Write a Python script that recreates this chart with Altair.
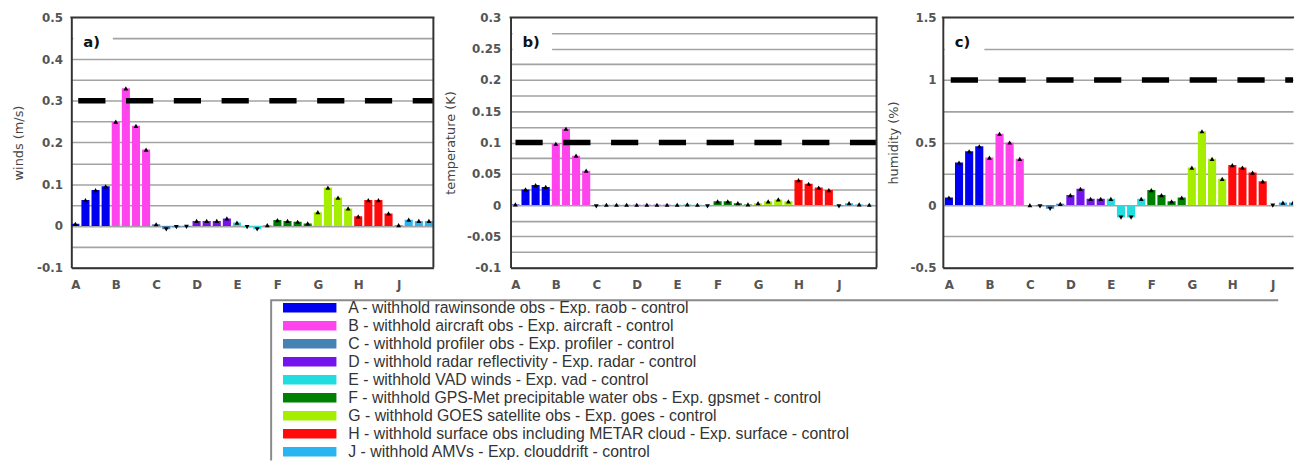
import json
import altair as alt
import pandas as pd

# ---------------- data ----------------
categories = ["A", "B", "C", "D", "E", "F", "G", "H", "J"]
colors = ["#0000f0", "#ff44ee", "#4682b4", "#7414ec", "#22dde0",
          "#008000", "#a6ee00", "#ff0a0a", "#2ab4f0"]
legend_labels = [
    "A - withhold rawinsonde obs - Exp. raob - control",
    "B - withhold aircraft obs - Exp. aircraft - control",
    "C - withhold profiler obs - Exp. profiler - control",
    "D - withhold radar reflectivity - Exp. radar - control",
    "E - withhold VAD winds - Exp. vad - control",
    "F - withhold GPS-Met precipitable water obs - Exp. gpsmet - control",
    "G - withhold GOES satellite obs - Exp. goes - control",
    "H - withhold surface obs including METAR cloud - Exp. surface - control",
    "J - withhold AMVs - Exp. clouddrift - control",
]

# four bars per experiment (one list per category, in category order)
winds = [
    [0.005, 0.062, 0.086, 0.095],
    [0.250, 0.330, 0.240, 0.183],
    [0.004, -0.008, -0.003, -0.002],
    [0.012, 0.012, 0.012, 0.018],
    [0.008, -0.003, -0.008, 0.002],
    [0.014, 0.012, 0.010, 0.006],
    [0.033, 0.092, 0.068, 0.042],
    [0.023, 0.062, 0.062, 0.030],
    [0.002, 0.015, 0.012, 0.012],
]
temperature = [
    [0.001, 0.025, 0.032, 0.029],
    [0.098, 0.122, 0.079, 0.055],
    [-0.002, 0.0005, 0.0005, 0.0005],
    [0.0005, 0.0005, 0.0005, 0.0005],
    [0.0005, 0.001, 0.0005, -0.002],
    [0.006, 0.006, 0.003, 0.001],
    [0.003, 0.006, 0.009, 0.006],
    [0.040, 0.034, 0.028, 0.024],
    [-0.002, 0.003, 0.001, 0.0005],
]
humidity = [
    [0.06, 0.34, 0.43, 0.47],
    [0.38, 0.57, 0.50, 0.37],
    [0.00, -0.01, -0.03, 0.01],
    [0.08, 0.13, 0.05, 0.05],
    [0.05, -0.10, -0.10, 0.05],
    [0.12, 0.08, 0.03, 0.06],
    [0.30, 0.59, 0.37, 0.21],
    [0.32, 0.30, 0.26, 0.19],
    [-0.005, 0.02, 0.02, 0.02],
]
thresholds = {"winds": 0.3, "temperature": 0.1, "humidity": 1.0}

winds_grid = [-0.1, -0.05, 0, 0.05, 0.1, 0.15, 0.2, 0.25, 0.3, 0.35, 0.4, 0.45, 0.5]
winds_labels = [-0.1, 0, 0.1, 0.2, 0.3, 0.4, 0.5]
temp_grid = [-0.1, -0.075, -0.05, -0.025, 0, 0.025, 0.05, 0.075, 0.1, 0.125,
             0.15, 0.175, 0.2, 0.225, 0.25, 0.275, 0.3]
temp_labels = [-0.1, -0.05, 0, 0.05, 0.1, 0.15, 0.2, 0.25, 0.3]
hum_grid = [-0.5, -0.25, 0, 0.25, 0.5, 0.75, 1, 1.25, 1.5]
hum_labels = [-0.5, 0, 0.5, 1, 1.5]


def make_frame(values):
    rows = []
    for gi, cat in enumerate(categories):
        for k, v in enumerate(values[gi]):
            pos = gi + k * 0.25
            rows.append({"cat": cat, "pos": pos, "x0": pos - 0.1, "x1": pos + 0.1,
                         "value": v, "dir": "up" if v >= 0 else "down"})
    return pd.DataFrame(rows)


color_scale = alt.Scale(domain=categories, range=colors)
cat_expr = "%s[datum.value]" % json.dumps(categories)
AXC = "#333333"
PH = 253
one = pd.DataFrame({"k": [0]})


def panel(values, title, ydom, grid_vals, label_vals, thresh, xdom, width,
          dash_offset, tag, right_border, label_pad, title_pad):
    df = make_frame(values)
    xs = alt.Scale(domain=xdom, nice=False, zero=False)
    ys = alt.Scale(domain=ydom, nice=False, zero=False)
    label_expr = ("indexof(%s, datum.value) >= 0 ? ((datum.value < 0 ? '-' : '') + "
                  "format(abs(datum.value), '~g')) : ''") % json.dumps(label_vals)
    x_axis = alt.Axis(
        orient="bottom", values=list(range(len(categories))), labelExpr=cat_expr,
        grid=False, ticks=False, title=None, labelFlush=False, labelPadding=12,
        labelFontSize=12, domain=True)
    y_axis = alt.Axis(
        orient="left", values=grid_vals, labelExpr=label_expr, grid=True,
        ticks=False, title=title, labelOverlap=False, labelPadding=label_pad,
        titlePadding=title_pad, domain=True)
    bars = alt.Chart(df).mark_bar(clip=True).encode(
        x=alt.X("x0:Q", scale=xs, axis=x_axis),
        x2="x1:Q",
        y=alt.Y("value:Q", scale=ys, axis=y_axis),
        y2=alt.datum(0),
        color=alt.Color("cat:N", scale=color_scale, legend=None),
    )
    marks = alt.Chart(df).mark_point(filled=True, color="black", size=24, opacity=1,
                                     clip=True).encode(
        x=alt.X("pos:Q", scale=xs, axis=x_axis),
        y=alt.Y("value:Q", scale=ys, axis=y_axis),
        shape=alt.Shape("dir:N", scale=alt.Scale(domain=["up", "down"],
                                                  range=["triangle-up", "triangle-down"]),
                        legend=None),
    )
    rule = alt.Chart(pd.DataFrame({"t": [thresh]})).mark_rule(
        color="black", strokeWidth=5.5, strokeDash=[27.5, 20.8],
        strokeDashOffset=dash_offset).encode(
        y=alt.Y("t:Q", scale=ys, axis=y_axis), x=alt.value(0), x2=alt.value(width))
    box = alt.Chart(one).mark_rect(color="white").encode(
        x=alt.value(2), x2=alt.value(42), y=alt.value(8), y2=alt.value(38))
    lab = alt.Chart(one).mark_text(
        text=tag, font="DejaVu Sans", fontSize=15, fontWeight="bold", align="left",
        baseline="middle", color="#111").encode(x=alt.value(12), y=alt.value(25))
    top_line = alt.Chart(one).mark_rule(color=AXC, strokeWidth=2).encode(
        x=alt.value(-1), x2=alt.value(width + 1), y=alt.value(0))
    layers = [bars, marks, rule, box, lab, top_line]
    if right_border:
        layers.append(alt.Chart(one).mark_rule(color=AXC, strokeWidth=2).encode(
            x=alt.value(width), y=alt.value(0), y2=alt.value(PH)))
    return alt.layer(*layers).properties(width=width, height=PH)


pa = panel(winds, "winds (m/s)", [-0.1, 0.5], winds_grid, winds_labels,
           thresholds["winds"], [-0.1, 8.86], 366, 41.3, "a)", True, 9, 11)
pb = panel(temperature, "temperature (K)", [-0.1, 0.3], temp_grid, temp_labels,
           thresholds["temperature"], [-0.12, 8.93], 370, 43.3, "b)", True, 10, 9)
pc = panel(humidity, "humidity (%)", [-0.5, 1.5], hum_grid, hum_labels,
           thresholds["humidity"], [-0.15, 8.5], 354, 40.3, "c)", False, 7, 10)

top = alt.hconcat(pa, pb, pc, spacing=6)

# ---------------- legend ----------------
leg_df = pd.DataFrame({"cat": categories, "label": legend_labels})
LW, LH = 1220, 170
ROW = 18.2
ly = alt.Scale(domain=categories, range=[6.4, 6.4 + ROW * len(categories)],
               paddingInner=0, paddingOuter=0)
leg_box = alt.Chart(one).mark_rect(
    fillOpacity=0, stroke="#8a8a8a", strokeWidth=2, clip=True).encode(
    x=alt.value(202), x2=alt.value(LW + 40), y=alt.value(8), y2=alt.value(LH + 40))
swatch = alt.Chart(leg_df).mark_point(
    shape="M-1,-0.18H1V0.18H-1Z", filled=True, size=54 * 54, opacity=1, clip=True).encode(
    x=alt.value(241), y=alt.Y("cat:N", scale=ly, axis=None),
    color=alt.Color("cat:N", scale=color_scale, legend=None))
text = alt.Chart(leg_df).mark_text(
    align="left", baseline="middle", font="Liberation Sans", fontSize=16,
    color="#333333", clip=True).encode(
    x=alt.value(280), y=alt.Y("cat:N", scale=ly, axis=None), text="label:N")
legend = alt.layer(leg_box, swatch, text).properties(width=LW, height=LH)

chart = alt.vconcat(top, legend, spacing=0).properties(
    padding={"left": 4, "top": 0, "right": 0, "bottom": 0}
).configure_view(stroke="transparent").configure_axis(
    domainColor=AXC, domainWidth=2, gridColor="#a3a3a3", gridWidth=1.6,
    labelFont="DejaVu Sans", labelFontSize=12, labelFontWeight="bold", labelColor="#555555",
    titleFont="DejaVu Sans", titleFontSize=13, titleFontWeight="normal", titleColor="#444444",
)

chart.save("out.html", embed_options={"renderer": "svg", "actions": False})
